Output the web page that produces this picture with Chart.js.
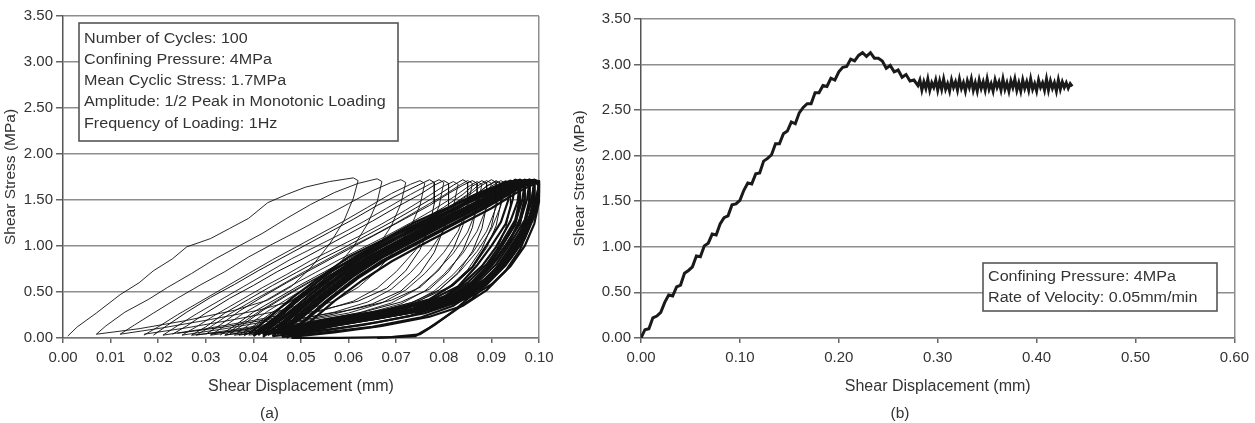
<!DOCTYPE html>
<html>
<head>
<meta charset="utf-8">
<script src="https://cdn.jsdelivr.net/npm/chart.js@4.4.1/dist/chart.umd.min.js"></script>
<style>
    html, body { margin: 0; padding: 0; background: #ffffff; }
    #wrapA { position: absolute; left: 0; top: 0; width: 560px; height: 423px; }
    #wrapB { position: absolute; left: 560px; top: 0; width: 695px; height: 423px; }
</style>
</head>
<body>
<div id="wrapA"><canvas id="chartA"></canvas></div>
<div id="wrapB"><canvas id="chartB"></canvas></div>
<script>
// (a) ciclos de carga - primeiros ciclos, pares [deslocamento mm, tensao MPa]
var earlyCycles = [
    [[0.001,0.02],[0.003,0.12],[0.007,0.27],[0.012,0.47],[0.016,0.60],[0.019,0.73],[0.023,0.86],[0.026,0.99],[0.031,1.08],[0.035,1.19],[0.039,1.30],[0.043,1.47],[0.047,1.56],[0.051,1.64],[0.056,1.70],[0.061,1.74],
     [0.062,1.71],[0.061,1.52],[0.059,1.27],[0.056,1.02],[0.052,0.76],[0.048,0.56],[0.043,0.41],[0.036,0.30],[0.026,0.19],[0.016,0.10],[0.007,0.04]],
    [[0.007,0.04],[0.009,0.13],[0.013,0.28],[0.018,0.42],[0.022,0.55],[0.027,0.70],[0.032,0.86],[0.037,1.00],[0.042,1.14],[0.047,1.30],[0.052,1.45],[0.057,1.58],[0.062,1.68],[0.066,1.73],
     [0.067,1.70],[0.066,1.48],[0.064,1.24],[0.061,0.99],[0.057,0.74],[0.053,0.55],[0.048,0.40],[0.041,0.30],[0.031,0.20],[0.021,0.11],[0.012,0.04]],
    [[0.012,0.04],[0.015,0.14],[0.019,0.27],[0.024,0.43],[0.029,0.58],[0.034,0.72],[0.039,0.88],[0.044,1.02],[0.050,1.18],[0.055,1.32],[0.060,1.46],[0.065,1.60],[0.069,1.69],[0.071,1.72],
     [0.072,1.69],[0.071,1.46],[0.069,1.22],[0.066,0.98],[0.062,0.75],[0.058,0.56],[0.053,0.41],[0.046,0.30],[0.036,0.20],[0.026,0.11],[0.017,0.04]],
    [[0.017,0.03],[0.020,0.12],[0.024,0.25],[0.029,0.40],[0.034,0.55],[0.039,0.70],[0.044,0.85],[0.049,0.99],[0.054,1.13],[0.059,1.27],[0.064,1.42],[0.069,1.57],[0.073,1.67],[0.075,1.71],
     [0.076,1.68],[0.075,1.44],[0.073,1.20],[0.070,0.97],[0.066,0.73],[0.062,0.55],[0.057,0.40],[0.050,0.29],[0.040,0.19],[0.030,0.10],[0.021,0.03]],
    [[0.021,0.03],[0.024,0.13],[0.028,0.26],[0.033,0.41],[0.038,0.56],[0.043,0.71],[0.048,0.86],[0.053,0.99],[0.058,1.12],[0.063,1.26],[0.068,1.41],[0.073,1.56],[0.077,1.67],[0.079,1.72],
     [0.080,1.69],[0.079,1.43],[0.077,1.18],[0.074,0.95],[0.070,0.72],[0.066,0.54],[0.061,0.40],[0.054,0.29],[0.044,0.19],[0.034,0.10],[0.025,0.03]],
    [[0.025,0.03],[0.028,0.12],[0.032,0.25],[0.037,0.40],[0.042,0.55],[0.047,0.69],[0.052,0.84],[0.057,0.97],[0.062,1.10],[0.067,1.24],[0.072,1.39],[0.077,1.55],[0.080,1.65],[0.082,1.70],
     [0.083,1.67],[0.082,1.42],[0.080,1.17],[0.077,0.94],[0.073,0.71],[0.069,0.53],[0.064,0.39],[0.057,0.28],[0.047,0.18],[0.037,0.10],[0.028,0.03]],
    [[0.028,0.03],[0.031,0.12],[0.035,0.26],[0.040,0.41],[0.045,0.55],[0.050,0.70],[0.055,0.84],[0.060,0.98],[0.065,1.11],[0.070,1.25],[0.075,1.40],[0.080,1.55],[0.083,1.65],[0.085,1.71],
     [0.086,1.68],[0.085,1.42],[0.083,1.16],[0.080,0.93],[0.076,0.70],[0.072,0.52],[0.067,0.38],[0.060,0.27],[0.050,0.18],[0.040,0.09],[0.031,0.03]],
    [[0.031,0.03],[0.034,0.13],[0.038,0.27],[0.043,0.42],[0.048,0.57],[0.053,0.71],[0.058,0.85],[0.063,0.98],[0.068,1.11],[0.073,1.25],[0.078,1.40],[0.082,1.53],[0.085,1.64],[0.087,1.70],
     [0.088,1.67],[0.087,1.41],[0.085,1.15],[0.082,0.92],[0.078,0.70],[0.074,0.52],[0.069,0.38],[0.062,0.27],[0.052,0.17],[0.042,0.09],[0.034,0.03]],
    [[0.034,0.03],[0.037,0.14],[0.041,0.28],[0.046,0.44],[0.051,0.59],[0.056,0.73],[0.061,0.87],[0.066,1.00],[0.071,1.13],[0.076,1.27],[0.081,1.42],[0.085,1.56],[0.087,1.65],[0.089,1.71],
     [0.090,1.68],[0.089,1.42],[0.087,1.16],[0.084,0.92],[0.080,0.69],[0.076,0.51],[0.071,0.37],[0.064,0.27],[0.054,0.17],[0.045,0.09],[0.037,0.03]],
    [[0.036,0.03],[0.039,0.14],[0.043,0.29],[0.048,0.45],[0.053,0.60],[0.058,0.74],[0.063,0.88],[0.068,1.01],[0.073,1.14],[0.078,1.28],[0.083,1.43],[0.087,1.57],[0.089,1.65],[0.091,1.70],
     [0.092,1.67],[0.091,1.42],[0.089,1.16],[0.086,0.92],[0.082,0.69],[0.078,0.51],[0.073,0.37],[0.066,0.27],[0.056,0.17],[0.047,0.09],[0.039,0.03]],
    [[0.038,0.04],[0.041,0.15],[0.045,0.30],[0.050,0.47],[0.055,0.62],[0.060,0.76],[0.065,0.90],[0.070,1.03],[0.075,1.16],[0.080,1.30],[0.084,1.44],[0.088,1.57],[0.090,1.65],[0.092,1.71],
     [0.093,1.68],[0.092,1.44],[0.090,1.18],[0.087,0.94],[0.083,0.70],[0.079,0.52],[0.074,0.38],[0.067,0.28],[0.057,0.18],[0.048,0.10],[0.040,0.04]]
];

// (a) ciclos intermediarios
var midCycles = [
    [[0.019,0.03],[0.022,0.14],[0.026,0.28],[0.031,0.44],[0.036,0.58],[0.041,0.73],[0.046,0.87],[0.051,1.01],[0.056,1.15],[0.061,1.29],[0.066,1.44],[0.071,1.57],[0.075,1.67],[0.077,1.72],
     [0.078,1.69],[0.078,1.46],[0.077,1.21],[0.075,0.96],[0.072,0.73],[0.068,0.54],[0.062,0.40],[0.054,0.30],[0.044,0.21],[0.034,0.12],[0.024,0.05]],
    [[0.023,0.04],[0.026,0.13],[0.030,0.27],[0.035,0.43],[0.040,0.57],[0.045,0.72],[0.050,0.85],[0.055,0.99],[0.060,1.13],[0.065,1.27],[0.070,1.42],[0.075,1.56],[0.078,1.66],[0.080,1.71],
     [0.081,1.68],[0.081,1.44],[0.080,1.19],[0.078,0.93],[0.075,0.70],[0.071,0.51],[0.065,0.37],[0.057,0.26],[0.047,0.16],[0.037,0.08],[0.027,0.03]],
    [[0.027,0.03],[0.030,0.12],[0.034,0.27],[0.039,0.42],[0.044,0.57],[0.049,0.71],[0.054,0.85],[0.059,0.98],[0.064,1.12],[0.069,1.26],[0.074,1.41],[0.079,1.56],[0.082,1.66],[0.084,1.72],
     [0.085,1.69],[0.085,1.47],[0.084,1.22],[0.082,0.97],[0.079,0.74],[0.075,0.55],[0.069,0.41],[0.061,0.31],[0.051,0.22],[0.041,0.12],[0.031,0.04]],
    [[0.030,0.04],[0.033,0.14],[0.037,0.29],[0.042,0.45],[0.047,0.60],[0.052,0.74],[0.057,0.88],[0.062,1.02],[0.067,1.16],[0.072,1.30],[0.077,1.44],[0.081,1.57],[0.084,1.66],[0.086,1.71],
     [0.087,1.68],[0.087,1.45],[0.086,1.20],[0.084,0.95],[0.081,0.72],[0.077,0.53],[0.071,0.39],[0.063,0.28],[0.053,0.19],[0.043,0.10],[0.034,0.03]],
    [[0.033,0.03],[0.036,0.13],[0.040,0.28],[0.045,0.43],[0.050,0.58],[0.055,0.72],[0.060,0.86],[0.065,0.99],[0.070,1.13],[0.075,1.27],[0.080,1.42],[0.084,1.56],[0.086,1.65],[0.088,1.71],
     [0.089,1.68],[0.089,1.44],[0.088,1.19],[0.086,0.94],[0.083,0.71],[0.079,0.52],[0.073,0.38],[0.065,0.27],[0.055,0.17],[0.045,0.09],[0.036,0.03]],
    [[0.035,0.04],[0.038,0.15],[0.042,0.30],[0.047,0.46],[0.052,0.61],[0.057,0.75],[0.062,0.89],[0.067,1.03],[0.072,1.17],[0.077,1.31],[0.082,1.45],[0.086,1.58],[0.088,1.66],[0.090,1.72],
     [0.091,1.69],[0.091,1.46],[0.090,1.21],[0.088,0.97],[0.085,0.74],[0.081,0.55],[0.075,0.41],[0.067,0.30],[0.057,0.20],[0.047,0.11],[0.038,0.04]],
    [[0.037,0.03],[0.040,0.13],[0.044,0.28],[0.049,0.44],[0.054,0.59],[0.059,0.73],[0.064,0.87],[0.069,1.00],[0.074,1.14],[0.079,1.28],[0.084,1.43],[0.087,1.56],[0.089,1.65],[0.091,1.71],
     [0.092,1.68],[0.092,1.47],[0.091,1.22],[0.089,0.98],[0.086,0.76],[0.082,0.57],[0.077,0.42],[0.069,0.31],[0.059,0.21],[0.049,0.12],[0.040,0.04]],
    [[0.038,0.02],[0.041,0.12],[0.045,0.27],[0.050,0.43],[0.055,0.58],[0.060,0.72],[0.065,0.86],[0.070,0.99],[0.075,1.12],[0.080,1.26],[0.085,1.41],[0.089,1.55],[0.091,1.64],[0.093,1.70],
     [0.094,1.67],[0.094,1.44],[0.093,1.19],[0.091,0.94],[0.088,0.71],[0.084,0.52],[0.079,0.38],[0.071,0.27],[0.061,0.17],[0.051,0.09],[0.042,0.03]]
];

// (a) ciclos posteriores (faixa escura)
var laterCycles = [
    [[0.039,0.04],[0.043,0.21],[0.048,0.43],[0.054,0.66],[0.060,0.88],[0.067,1.06],[0.074,1.26],[0.081,1.42],[0.087,1.57],[0.091,1.65],[0.093,1.70],
     [0.094,1.68],[0.0935,1.49],[0.092,1.26],[0.089,1.01],[0.086,0.77],[0.082,0.58],[0.077,0.42],[0.070,0.32],[0.060,0.21],[0.050,0.14],[0.042,0.05]],
    [[0.040,0.05],[0.044,0.19],[0.049,0.41],[0.055,0.68],[0.061,0.86],[0.068,1.08],[0.075,1.24],[0.082,1.44],[0.088,1.58],[0.092,1.67],[0.094,1.71],
     [0.095,1.69],[0.0945,1.51],[0.093,1.24],[0.090,1.00],[0.087,0.79],[0.083,0.56],[0.078,0.43],[0.071,0.30],[0.061,0.23],[0.051,0.12],[0.043,0.06]],
    [[0.041,0.03],[0.045,0.20],[0.050,0.44],[0.056,0.65],[0.062,0.89],[0.069,1.05],[0.076,1.27],[0.083,1.41],[0.089,1.59],[0.093,1.65],[0.095,1.72],
     [0.096,1.70],[0.0955,1.48],[0.094,1.27],[0.091,0.99],[0.088,0.78],[0.084,0.59],[0.079,0.41],[0.072,0.33],[0.062,0.21],[0.052,0.14],[0.044,0.04]],
    [[0.041,0.06],[0.046,0.20],[0.051,0.40],[0.057,0.63],[0.063,0.84],[0.070,1.03],[0.077,1.22],[0.084,1.40],[0.090,1.56],[0.093,1.64],[0.095,1.70],
     [0.096,1.68],[0.096,1.52],[0.095,1.28],[0.092,1.02],[0.089,0.80],[0.085,0.60],[0.080,0.44],[0.073,0.31],[0.063,0.22],[0.053,0.13],[0.045,0.05]],
    [[0.042,0.04],[0.046,0.22],[0.051,0.43],[0.057,0.67],[0.063,0.87],[0.070,1.08],[0.077,1.25],[0.084,1.44],[0.090,1.58],[0.094,1.66],[0.096,1.71],
     [0.097,1.69],[0.0965,1.50],[0.095,1.25],[0.092,0.98],[0.089,0.77],[0.085,0.56],[0.080,0.42],[0.073,0.30],[0.063,0.22],[0.053,0.12],[0.045,0.05]],
    [[0.042,0.03],[0.047,0.19],[0.052,0.42],[0.058,0.66],[0.064,0.85],[0.071,1.06],[0.078,1.23],[0.085,1.42],[0.091,1.57],[0.094,1.65],[0.096,1.70],
     [0.097,1.67],[0.097,1.48],[0.096,1.24],[0.093,1.01],[0.090,0.79],[0.086,0.58],[0.081,0.43],[0.074,0.32],[0.064,0.23],[0.054,0.14],[0.046,0.06]],
    [[0.043,0.05],[0.047,0.21],[0.052,0.44],[0.058,0.68],[0.064,0.88],[0.071,1.07],[0.078,1.26],[0.085,1.43],[0.091,1.59],[0.095,1.67],[0.097,1.72],
     [0.098,1.70],[0.0975,1.51],[0.096,1.26],[0.093,1.00],[0.090,0.78],[0.086,0.57],[0.081,0.41],[0.074,0.30],[0.064,0.21],[0.054,0.13],[0.046,0.04]],
    [[0.043,0.03],[0.048,0.18],[0.053,0.40],[0.059,0.64],[0.065,0.85],[0.072,1.04],[0.079,1.23],[0.086,1.41],[0.091,1.56],[0.095,1.65],[0.097,1.70],
     [0.098,1.68],[0.098,1.50],[0.097,1.28],[0.094,1.03],[0.091,0.80],[0.087,0.60],[0.082,0.44],[0.075,0.33],[0.065,0.22],[0.055,0.14],[0.047,0.06]],
    [[0.044,0.04],[0.048,0.22],[0.053,0.45],[0.059,0.69],[0.065,0.89],[0.072,1.08],[0.079,1.27],[0.086,1.45],[0.091,1.58],[0.095,1.66],[0.097,1.71],
     [0.098,1.69],[0.098,1.47],[0.097,1.23],[0.094,0.99],[0.091,0.76],[0.087,0.56],[0.082,0.40],[0.075,0.29],[0.065,0.20],[0.055,0.12],[0.047,0.05]],
    [[0.044,0.05],[0.049,0.20],[0.054,0.42],[0.060,0.66],[0.066,0.86],[0.073,1.05],[0.080,1.24],[0.087,1.42],[0.092,1.57],[0.096,1.66],[0.098,1.71],
     [0.099,1.69],[0.0985,1.52],[0.097,1.27],[0.095,1.02],[0.092,0.80],[0.088,0.59],[0.083,0.44],[0.076,0.32],[0.066,0.23],[0.056,0.13],[0.048,0.05]],
    [[0.045,0.04],[0.049,0.23],[0.054,0.46],[0.060,0.70],[0.066,0.90],[0.073,1.09],[0.080,1.28],[0.087,1.46],[0.092,1.59],[0.096,1.67],[0.098,1.72],
     [0.099,1.70],[0.099,1.49],[0.098,1.25],[0.095,0.98],[0.092,0.77],[0.088,0.57],[0.083,0.42],[0.076,0.31],[0.066,0.21],[0.056,0.14],[0.048,0.06]],
    [[0.045,0.06],[0.050,0.21],[0.055,0.43],[0.061,0.67],[0.067,0.87],[0.074,1.06],[0.081,1.25],[0.088,1.43],[0.093,1.58],[0.096,1.65],[0.098,1.70],
     [0.099,1.68],[0.099,1.51],[0.098,1.29],[0.096,1.04],[0.093,0.81],[0.089,0.61],[0.084,0.45],[0.077,0.34],[0.067,0.24],[0.057,0.15],[0.049,0.07]],
    [[0.046,0.05],[0.050,0.22],[0.055,0.44],[0.061,0.68],[0.067,0.88],[0.074,1.07],[0.081,1.26],[0.088,1.44],[0.093,1.59],[0.097,1.67],[0.099,1.71],
     [0.100,1.69],[0.0995,1.50],[0.098,1.26],[0.096,1.01],[0.093,0.79],[0.089,0.58],[0.084,0.43],[0.077,0.31],[0.067,0.22],[0.057,0.13],[0.049,0.05]],
    [[0.046,0.03],[0.051,0.19],[0.056,0.41],[0.062,0.65],[0.068,0.85],[0.075,1.04],[0.082,1.23],[0.089,1.42],[0.094,1.57],[0.097,1.66],[0.099,1.70],
     [0.100,1.68],[0.100,1.48],[0.099,1.24],[0.097,1.00],[0.094,0.78],[0.090,0.58],[0.085,0.43],[0.078,0.32],[0.068,0.23],[0.058,0.14],[0.050,0.06]],
    [[0.040,0.02],[0.044,0.17],[0.049,0.39],[0.055,0.64],[0.061,0.84],[0.068,1.04],[0.075,1.22],[0.082,1.41],[0.088,1.56],[0.092,1.65],[0.095,1.71],
     [0.096,1.69],[0.096,1.48],[0.095,1.23],[0.092,0.98],[0.089,0.74],[0.085,0.53],[0.080,0.36],[0.073,0.24],[0.063,0.14],[0.053,0.07],[0.044,0.02]],
    [[0.041,0.08],[0.045,0.24],[0.050,0.47],[0.056,0.71],[0.062,0.90],[0.069,1.10],[0.076,1.28],[0.083,1.46],[0.089,1.60],[0.093,1.67],[0.096,1.72],
     [0.097,1.70],[0.097,1.52],[0.096,1.30],[0.094,1.06],[0.091,0.84],[0.087,0.64],[0.082,0.48],[0.075,0.37],[0.065,0.28],[0.055,0.20],[0.046,0.10]],
    [[0.042,0.01],[0.046,0.16],[0.051,0.38],[0.057,0.62],[0.063,0.83],[0.070,1.02],[0.077,1.21],[0.084,1.39],[0.090,1.55],[0.094,1.64],[0.097,1.70],
     [0.098,1.68],[0.098,1.47],[0.097,1.22],[0.094,0.96],[0.091,0.73],[0.087,0.52],[0.082,0.35],[0.075,0.22],[0.065,0.12],[0.055,0.06],[0.046,0.01]],
    [[0.043,0.09],[0.047,0.25],[0.052,0.48],[0.058,0.72],[0.064,0.92],[0.071,1.11],[0.078,1.29],[0.085,1.47],[0.090,1.60],[0.095,1.68],[0.098,1.72],
     [0.099,1.70],[0.099,1.53],[0.098,1.31],[0.096,1.07],[0.093,0.85],[0.089,0.65],[0.084,0.49],[0.077,0.38],[0.067,0.29],[0.057,0.21],[0.048,0.12]],
    [[0.044,0.02],[0.048,0.18],[0.053,0.41],[0.059,0.65],[0.065,0.86],[0.072,1.05],[0.079,1.24],[0.086,1.43],[0.091,1.57],[0.095,1.66],[0.098,1.71],
     [0.099,1.69],[0.0985,1.49],[0.097,1.25],[0.095,1.00],[0.092,0.77],[0.088,0.56],[0.083,0.39],[0.076,0.27],[0.066,0.17],[0.056,0.09],[0.047,0.03]],
    [[0.045,0.10],[0.049,0.26],[0.054,0.49],[0.060,0.73],[0.066,0.93],[0.073,1.12],[0.080,1.30],[0.087,1.48],[0.092,1.61],[0.096,1.68],[0.099,1.72],
     [0.100,1.70],[0.100,1.54],[0.099,1.32],[0.097,1.08],[0.094,0.86],[0.090,0.66],[0.085,0.50],[0.078,0.39],[0.068,0.30],[0.058,0.22],[0.049,0.13]],
    [[0.046,0.01],[0.050,0.16],[0.055,0.39],[0.061,0.63],[0.067,0.84],[0.074,1.03],[0.081,1.22],[0.088,1.41],[0.093,1.56],[0.097,1.65],[0.099,1.70],
     [0.100,1.67],[0.0995,1.46],[0.098,1.21],[0.096,0.96],[0.093,0.73],[0.089,0.52],[0.084,0.35],[0.077,0.23],[0.067,0.13],[0.057,0.06],[0.048,0.01]],
    [[0.046,0.07],[0.050,0.23],[0.055,0.46],[0.061,0.70],[0.067,0.89],[0.074,1.08],[0.081,1.27],[0.088,1.45],[0.093,1.59],[0.096,1.67],[0.098,1.71],
     [0.099,1.69],[0.099,1.50],[0.098,1.27],[0.096,1.03],[0.093,0.80],[0.089,0.60],[0.084,0.45],[0.077,0.34],[0.067,0.25],[0.057,0.17],[0.049,0.08]],
    [[0.047,0.04],[0.051,0.20],[0.056,0.43],[0.062,0.67],[0.068,0.86],[0.075,1.05],[0.082,1.24],[0.089,1.43],[0.094,1.58],[0.097,1.66],[0.099,1.71],
     [0.100,1.65],[0.099,1.45],[0.097,1.20],[0.094,0.95],[0.090,0.70],[0.086,0.47],[0.082,0.29],[0.078,0.14],[0.075,0.04],[0.069,0.01],[0.058,0.00],[0.048,0.00]],
    [[0.047,0.00],[0.052,0.18],[0.057,0.40],[0.063,0.63],[0.069,0.83],[0.076,1.03],[0.083,1.22],[0.090,1.41],[0.095,1.57],[0.098,1.65],[0.100,1.70],
     [0.100,1.58],[0.099,1.38],[0.097,1.13],[0.094,0.88],[0.090,0.64],[0.086,0.43],[0.081,0.25],[0.077,0.11],[0.074,0.02],[0.066,0.00]]
];

// (b) carregamento monotonico
var monoDisp = [0.000,0.004,0.008,0.012,0.016,0.020,0.024,0.028,0.032,0.036,0.040,0.044,0.048,0.052,0.056,0.060,0.064,0.068,0.072,0.076,
    0.080,0.084,0.088,0.092,0.096,0.100,0.104,0.108,0.112,0.116,0.120,0.124,0.128,0.132,0.136,0.140,0.144,0.148,0.152,0.156,
    0.160,0.164,0.168,0.172,0.176,0.180,0.184,0.188,0.192,0.196,0.200,0.204,0.208,0.212,0.216,0.220,0.224,0.228,0.232,0.236,
    0.240,0.244,0.248,0.252,0.256,0.260,0.264,0.268,0.272,0.276,0.280,
    0.282,0.284,0.286,0.288,0.290,0.292,0.294,0.296,0.298,0.300,0.302,0.304,0.306,0.308,0.310,0.312,0.314,0.316,0.318,0.320,
    0.322,0.324,0.326,0.328,0.330,0.332,0.334,0.336,0.338,0.340,0.342,0.344,0.346,0.348,0.350,0.352,0.354,0.356,0.358,0.360,
    0.362,0.364,0.366,0.368,0.370,0.372,0.374,0.376,0.378,0.380,0.382,0.384,0.386,0.388,0.390,0.392,0.394,0.396,0.398,0.400,
    0.402,0.404,0.406,0.408,0.410,0.412,0.414,0.416,0.418,0.420,0.422,0.424,0.426,0.428,0.430,0.432,0.434,0.436];
var monoStress = [0.00,0.09,0.10,0.22,0.24,0.28,0.39,0.47,0.46,0.56,0.58,0.71,0.74,0.78,0.90,0.89,1.01,1.04,1.14,1.13,
    1.25,1.32,1.34,1.46,1.47,1.51,1.62,1.70,1.69,1.80,1.81,1.94,1.97,2.01,2.13,2.13,2.24,2.27,2.37,2.35,
    2.47,2.53,2.57,2.57,2.69,2.69,2.77,2.76,2.85,2.83,2.92,2.97,2.98,3.06,3.04,3.10,3.13,3.09,3.13,3.07,
    3.07,3.04,2.96,2.99,2.92,2.94,2.86,2.89,2.82,2.83,2.77,
    2.83,2.72,2.81,2.74,2.84,2.72,2.80,2.75,2.83,2.72,2.82,2.73,2.84,2.73,2.79,2.71,2.83,2.75,2.81,2.72,
    2.84,2.74,2.80,2.71,2.82,2.75,2.84,2.72,2.80,2.71,2.83,2.74,2.81,2.72,2.84,2.73,2.79,2.71,2.83,2.75,
    2.81,2.72,2.84,2.73,2.80,2.71,2.82,2.75,2.84,2.72,2.80,2.71,2.83,2.74,2.81,2.72,2.84,2.73,2.79,2.71,
    2.83,2.75,2.80,2.72,2.84,2.72,2.82,2.74,2.80,2.71,2.83,2.73,2.81,2.75,2.80,2.74,2.79,2.76];

var stressTicks = [0, 0.5, 1.0, 1.5, 2.0, 2.5, 3.0, 3.5];
var boxA = ['Number of Cycles: 100', 'Confining Pressure: 4MPa', 'Mean Cyclic Stress: 1.7MPa',
    'Amplitude: 1/2 Peak in Monotonic Loading', 'Frequency of Loading: 1Hz'];
var boxB = ['Confining Pressure: 4MPa', 'Rate of Velocity: 0.05mm/min'];

var FONTE = '"Liberation Sans", Arial, sans-serif';
var CINZA = '#8e8e8e';

// caixa de texto com legenda
var caixaTexto = {
    id: 'caixaTexto',
    afterDatasetsDraw: function (chart, args, opts) {
        var ctx = chart.ctx;
        ctx.save();
        ctx.fillStyle = '#ffffff';
        ctx.fillRect(opts.x, opts.y, opts.w, opts.h);
        ctx.strokeStyle = '#555555';
        ctx.lineWidth = 1.6;
        ctx.strokeRect(opts.x, opts.y, opts.w, opts.h);
        ctx.fillStyle = '#333333';
        ctx.font = '14px ' + FONTE;
        ctx.textBaseline = 'middle';
        for (var i = 0; i < opts.lines.length; i++) {
            ctx.save();
            ctx.translate(opts.x + 5, opts.y + opts.first + i * opts.gap);
            ctx.scale(1.15, 1); // texto original um pouco esticado
            ctx.fillText(opts.lines[i], 0, 0);
            ctx.restore();
        }
        ctx.restore();
    }
};

function eixos(xMax, xStep, yWidth, yTitlePad, xTitle) {
    return {
        x: {
            type: 'linear', min: 0, max: xMax,
            ticks: { stepSize: xStep, autoSkip: false, maxRotation: 0, padding: 6, color: '#333',
                font: { family: FONTE, size: 15 },
                callback: function (v) { return v.toFixed(2); } },
            grid: {
                color: function (c) { return c.index === c.scale.ticks.length - 1 ? CINZA : 'rgba(0,0,0,0)'; },
                lineWidth: 1.5, tickColor: '#666', tickLength: 5, drawTicks: true
            },
            border: { color: '#777', width: 1.5 },
            title: { display: true, text: xTitle, color: '#333', font: { family: FONTE, size: 16 },
                padding: { top: 0, bottom: 8 } },
            afterFit: function (s) { s.height = 66.5; }
        },
        y: {
            type: 'linear', min: 0, max: 3.5,
            afterBuildTicks: function (s) { s.ticks = stressTicks.map(function (v) { return { value: v }; }); },
            ticks: { padding: 3, color: '#333', font: { family: FONTE, size: 15 },
                callback: function (v) { return Number(v).toFixed(2); } },
            grid: { color: CINZA, lineWidth: 1.5, tickColor: '#666', tickLength: 7 },
            border: { color: '#555', width: 1.5 },
            title: { display: true, text: 'Shear Stress (MPa)', color: '#333', font: { family: FONTE, size: 15.5 },
                padding: { top: yTitlePad, bottom: 0 } },
            afterFit: function (s) { s.width = yWidth; }
        }
    };
}

function grafico(id, datasets, xMax, xStep, yWidth, yTitlePad, pad, rotulo, caixa) {
    var ctx = document.getElementById(id).getContext('2d');
    return new Chart(ctx, {
        type: 'scatter',
        data: { datasets: datasets },
        options: {
            responsive: true,
            maintainAspectRatio: false,
            animation: false,
            layout: { padding: pad },
            plugins: {
                legend: { display: false },
                tooltip: { enabled: false },
                title: { display: true, position: 'bottom', text: rotulo, color: '#333',
                    font: { family: FONTE, size: 15.5, weight: 'normal', lineHeight: 1.2 }, padding: 0 },
                caixaTexto: caixa
            },
            scales: eixos(xMax, xStep, yWidth, yTitlePad, 'Shear Displacement (mm)')
        },
        plugins: [caixaTexto]
    });
}

function laco(pares, largura) {
    return {
        data: pares.map(function (p) { return { x: p[0], y: p[1] }; }),
        showLine: true, pointRadius: 0, borderColor: '#111111', borderWidth: largura,
        tension: 0, clip: 2
    };
}

window.onload = function () {
    var dsA = earlyCycles.map(function (c) { return laco(c, 0.9); })
        .concat(midCycles.map(function (c) { return laco(c, 1.0); }))
        .concat(laterCycles.map(function (c) { return laco(c, 2.2); }));
    grafico('chartA', dsA, 0.1, 0.01, 63, 1, { top: 16, right: 21, bottom: 0, left: 0 }, '(a)',
        { lines: boxA, x: 79, y: 23, w: 319, h: 118, first: 16, gap: 21.2 });

    var dsB = [{
        data: monoDisp.map(function (d, i) { return { x: d, y: monoStress[i] }; }),
        showLine: true, pointRadius: 0, borderColor: '#1a1a1a', borderWidth: 3, tension: 0
    }];
    grafico('chartB', dsB, 0.6, 0.1, 81, 10, { top: 19, right: 15, bottom: 0, left: 0 }, '(b)',
        { lines: boxB, x: 423, y: 263, w: 234, h: 48, first: 14, gap: 21 });
};
</script>
</body>
</html>
